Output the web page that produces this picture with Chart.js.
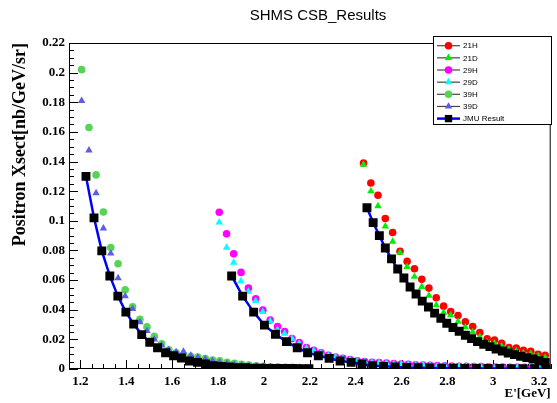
<!DOCTYPE html>
<html>
<head>
<meta charset="utf-8">
<script src="https://cdn.jsdelivr.net/npm/chart.js@4.4.0/dist/chart.umd.min.js"></script>
<style>
  html, body { margin: 0; padding: 0; background: #fff; }
</style>
</head>
<body>
<canvas id="csbChart" width="557" height="403"></canvas>
<script>
// axis ticks
const xTicks = [1.2, 1.4, 1.6, 1.8, 2.0, 2.2, 2.4, 2.6, 2.8, 3.0, 3.2];
const yTicks = [0, 0.02, 0.04, 0.06, 0.08, 0.1, 0.12, 0.14, 0.16, 0.18, 0.2, 0.22];

// 21 deg settings (H and D share the same E' bins)
const e21 = [2.434, 2.466, 2.497, 2.529, 2.561, 2.593, 2.624, 2.656, 2.688, 2.719, 2.751, 2.783, 2.814,
             2.846, 2.878, 2.910, 2.941, 2.973, 3.005, 3.036, 3.068, 3.100, 3.131, 3.163, 3.195, 3.226];
const y21H = [0.139, 0.1255, 0.1173, 0.1016, 0.0921, 0.0794, 0.0726, 0.0677, 0.0605, 0.0546, 0.0481, 0.0424, 0.0388,
              0.0361, 0.0318, 0.0286, 0.0246, 0.0203, 0.0196, 0.0174, 0.0144, 0.0142, 0.0127, 0.0120, 0.0100, 0.0093];
const y21D = [0.138, 0.120, 0.110, 0.0963, 0.086, 0.0785, 0.069, 0.0623, 0.0555, 0.0496, 0.0431, 0.0381, 0.0363,
              0.032, 0.0282, 0.025, 0.0217, 0.0181, 0.0174, 0.0154, 0.0131, 0.0120, 0.0108, 0.0102, 0.0088, 0.0077];

// 29 deg settings
const e29 = [1.805, 1.837, 1.868, 1.900, 1.932, 1.964, 1.995, 2.027, 2.059, 2.090, 2.122, 2.154, 2.185, 2.217, 2.249,
             2.281, 2.312, 2.344, 2.376, 2.407, 2.439, 2.471, 2.502, 2.534, 2.566, 2.598, 2.629, 2.661, 2.693, 2.724,
             2.756, 2.788, 2.819, 2.851, 2.883, 2.915, 2.946, 2.978, 3.010, 3.041, 3.073, 3.105, 3.136, 3.168, 3.200];
const y29H = [0.1058, 0.0912, 0.0777, 0.0652, 0.0546, 0.0474, 0.0397, 0.033, 0.0286, 0.0253, 0.0205, 0.0178, 0.0144, 0.0127, 0.011,
              0.0093, 0.0081, 0.0072, 0.0063, 0.0056, 0.0050, 0.0046, 0.0043, 0.0040, 0.0037, 0.0034, 0.0031, 0.0029, 0.0027, 0.0025,
              0.0023, 0.0022, 0.0020, 0.0019, 0.0018, 0.0017, 0.0016, 0.0015, 0.0014, 0.0013, 0.0012, 0.0012, 0.0011, 0.0010, 0.0010];
const y29D = [0.099, 0.082, 0.0718, 0.0594, 0.0523, 0.046, 0.0386, 0.0323, 0.0264, 0.0239, 0.0205, 0.0171, 0.014, 0.0122, 0.0106,
              0.0091, 0.008, 0.0070, 0.0061, 0.0054, 0.0048, 0.0044, 0.0041, 0.0038, 0.0035, 0.0032, 0.0030, 0.0028, 0.0026, 0.0024,
              0.0022, 0.0021, 0.0019, 0.0018, 0.0017, 0.0016, 0.0015, 0.0014, 0.0013, 0.0012, 0.0011, 0.0011, 0.0010, 0.0009, 0.0009];

// 39 deg settings
const e39 = [1.205, 1.237, 1.268, 1.300, 1.332, 1.364, 1.395, 1.427, 1.459, 1.490, 1.522, 1.554, 1.585, 1.617, 1.649, 1.681,
             1.712, 1.744, 1.776, 1.807, 1.839, 1.871, 1.903, 1.934, 1.966, 1.998, 2.029, 2.061, 2.093, 2.125, 2.156, 2.188];
const y39H = [0.202, 0.163, 0.131, 0.106, 0.082, 0.071, 0.0535, 0.042, 0.0336, 0.0284, 0.022, 0.017, 0.013, 0.011, 0.0095, 0.0085,
              0.008, 0.007, 0.006, 0.0055, 0.0045, 0.0038, 0.0032, 0.0027, 0.0022, 0.0018, 0.0015, 0.0013, 0.0011, 0.0010, 0.0009, 0.0008];
const y39D = [0.181, 0.1476, 0.1187, 0.095, 0.078, 0.0614, 0.0492, 0.0406, 0.0316, 0.0257, 0.020, 0.016, 0.013, 0.0115, 0.0117, 0.009,
              0.0079, 0.0067, 0.0055, 0.0045, 0.0037, 0.0030, 0.0025, 0.0021, 0.0018, 0.0015, 0.0013, 0.0011, 0.0010, 0.0009, 0.0008, 0.0007];

// JMU result, three pieces
const eJmuLow = [1.224, 1.259, 1.293, 1.328, 1.363, 1.398, 1.432, 1.467, 1.502, 1.536, 1.571, 1.606, 1.640, 1.675, 1.710,
                 1.745, 1.779, 1.814, 1.849, 1.883, 1.918, 1.953, 1.987, 2.022, 2.057, 2.092, 2.126, 2.161, 2.196];
const jmuLow = [0.130, 0.102, 0.0797, 0.0628, 0.0492, 0.0384, 0.0303, 0.0232, 0.0180, 0.0143, 0.0110, 0.0089, 0.0074, 0.0054, 0.0045,
                0.0034, 0.0022, 0.0018, 0.0013, 0.0009, 0.0009, 0.0006, 0.0005, 0.0004, 0.0004, 0.0003, 0.0003, 0.0002, 0.0002];
const eJmuMid = [1.859, 1.907, 1.955, 2.002, 2.050, 2.098, 2.145, 2.190, 2.237, 2.284, 2.332, 2.380, 2.427, 2.474, 2.521,
                 2.572, 2.622, 2.672, 2.722, 2.774, 2.825, 2.875, 2.926, 2.977, 3.028, 3.078, 3.129, 3.180, 3.230];
const jmuMid = [0.0628, 0.0492, 0.0384, 0.0296, 0.0235, 0.0185, 0.0143, 0.0110, 0.0089, 0.0072, 0.0054, 0.0045, 0.0034, 0.0022, 0.0018,
                0.0013, 0.0010, 0.0009, 0.0007, 0.0006, 0.0005, 0.0004, 0.0004, 0.0003, 0.0003, 0.0002, 0.0002, 0.0002, 0.0001];
const eJmuHigh = [2.449, 2.476, 2.503, 2.529, 2.556, 2.583, 2.610, 2.637, 2.663, 2.690, 2.717, 2.744, 2.771, 2.797, 2.824,
                  2.851, 2.878, 2.905, 2.931, 2.958, 2.985, 3.012, 3.039, 3.065, 3.092, 3.119, 3.146, 3.173, 3.199, 3.226];
const jmuHigh = [0.1088, 0.0988, 0.090, 0.0817, 0.0743, 0.0675, 0.0614, 0.0553, 0.0506, 0.0458, 0.0418, 0.0377, 0.0343, 0.0309, 0.028,
                 0.0255, 0.0228, 0.0205, 0.0185, 0.0167, 0.0151, 0.0135, 0.0122, 0.0108, 0.0097, 0.0086, 0.0077, 0.0068, 0.0056, 0.0045];

const pts = (xs, ys) => xs.map((x, i) => ({ x: x, y: ys[i] }));

function marker(label, xs, ys, color, style, r, order) {
    return {
        label: label,
        data: pts(xs, ys),
        pointStyle: style,
        pointRadius: r,
        pointBackgroundColor: color,
        pointBorderWidth: 0,
        backgroundColor: color,
        borderColor: color,
        showLine: false,
        order: order
    };
}

function jmu(xs, ys) {
    return {
        label: 'JMU Result',
        data: pts(xs, ys),
        showLine: true,
        borderColor: '#0000ff',
        borderWidth: 2.5,
        pointStyle: 'rect',
        pointRadius: 6.3,
        pointBackgroundColor: '#000',
        pointBorderWidth: 0,
        backgroundColor: '#000',
        tension: 0,
        order: 0
    };
}

const datasets = [
    marker('21H', e21, y21H, '#ff0000', 'circle', 3.8, 2),
    marker('21D', e21, y21D, '#00ee00', 'triangle', 4.3, 1),
    marker('29H', e29, y29H, '#ff00ff', 'circle', 3.8, 2),
    marker('29D', e29, y29D, '#00ffff', 'triangle', 4.3, 1),
    marker('39H', e39, y39H, '#55d455', 'circle', 3.8, 2),
    marker('39D', e39, y39D, '#5c5ce6', 'triangle', 4.3, 1),
    jmu(eJmuLow, jmuLow),
    jmu(eJmuMid, jmuMid),
    jmu(eJmuHigh, jmuHigh)
];

// ROOT style frame with inward ticks, title and legend box
const framePlugin = {
    id: 'rootFrame',
    beforeDatasetsDraw(chart) {
        const ctx = chart.ctx;
        const a = chart.chartArea;
        const xs = chart.scales.x, ys = chart.scales.y;
        ctx.save();
        ctx.strokeStyle = '#000';
        ctx.lineWidth = 1;
        ctx.strokeRect(a.left + 0.5, a.top + 0.5, a.right - a.left - 1, a.bottom - a.top - 1);
        ctx.beginPath();
        for (let v = 1.15; v <= 3.2501; v += 0.05) {
            const px = Math.round(xs.getPixelForValue(v)) + 0.5;
            const major = xTicks.some(t => Math.abs(t - v) < 1e-6);
            ctx.moveTo(px, a.bottom);
            ctx.lineTo(px, a.bottom - (major ? 9 : 5));
        }
        for (let v = 0; v <= 0.2201; v += 0.005) {
            const py = Math.round(ys.getPixelForValue(v)) + 0.5;
            const major = yTicks.some(t => Math.abs(t - v) < 1e-6);
            ctx.moveTo(a.left, py);
            ctx.lineTo(a.left + (major ? 9 : 5), py);
        }
        ctx.stroke();
        ctx.restore();
    },
    afterDraw(chart) {
        const ctx = chart.ctx;
        ctx.save();
        // main title
        ctx.fillStyle = '#000';
        ctx.font = '15px "Liberation Sans", Arial, sans-serif';
        ctx.textAlign = 'center';
        ctx.textBaseline = 'middle';
        ctx.fillText('SHMS CSB_Results', 318, 16);

        // legend box
        const bx = 433, by = 36, bw = 118, bh = 88;
        ctx.fillStyle = '#fff';
        ctx.fillRect(bx, by, bw, bh);
        ctx.strokeStyle = '#000';
        ctx.lineWidth = 1;
        ctx.strokeRect(bx + 0.5, by + 0.5, bw, bh);

        const entries = chart.data.datasets.slice(0, 7);
        entries.forEach((ds, i) => {
            const y = 45.7 + i * 12.15;
            const isJmu = ds.label === 'JMU Result';
            ctx.beginPath();
            ctx.strokeStyle = isJmu ? '#0000ff' : '#444';
            ctx.lineWidth = isJmu ? 2.5 : 1.2;
            ctx.moveTo(437, y);
            ctx.lineTo(460, y);
            ctx.stroke();
            ctx.fillStyle = ds.pointBackgroundColor;
            Chart.helpers.drawPoint(ctx, {
                pointStyle: ds.pointStyle,
                rotation: 0,
                borderWidth: 0,
                radius: isJmu ? 5.2 : ds.pointRadius
            }, 448.5, y);
            ctx.fillStyle = '#000';
            ctx.font = '8px "Liberation Sans", Arial, sans-serif';
            ctx.textAlign = 'left';
            ctx.textBaseline = 'middle';
            ctx.fillText(ds.label, 463, y + 0.5);
        });
        ctx.restore();
    }
};

const tickFont = { family: '"Liberation Serif", "Times New Roman", serif', size: 13, weight: 'bold' };

new Chart(document.getElementById('csbChart').getContext('2d'), {
    type: 'scatter',
    data: { datasets: datasets },
    options: {
        responsive: false,
        animation: false,
        layout: { padding: { top: 43, right: 4, left: 0, bottom: 0 } },
        plugins: {
            legend: { display: false },
            tooltip: { enabled: false },
            title: { display: false }
        },
        scales: {
            x: {
                type: 'linear',
                min: 1.15,
                max: 3.25,
                afterFit: scale => { scale.height = 34; },
                afterBuildTicks: scale => { scale.ticks = xTicks.map(v => ({ value: v })); },
                grid: { display: false, drawTicks: false },
                border: { display: false },
                ticks: {
                    padding: 5,
                    color: '#000',
                    font: tickFont,
                    maxRotation: 0,
                    autoSkip: false,
                    callback: v => String(+v.toFixed(1))
                },
                title: {
                    display: true,
                    text: "E'[GeV]",
                    align: 'end',
                    color: '#000',
                    font: { family: '"Liberation Serif", "Times New Roman", serif', size: 13, weight: 'bold' },
                    padding: { top: 0, bottom: 2 }
                }
            },
            y: {
                type: 'linear',
                min: 0,
                max: 0.22,
                afterFit: scale => { scale.width = 69; },
                afterBuildTicks: scale => { scale.ticks = yTicks.map(v => ({ value: v })); },
                grid: { display: false, drawTicks: false },
                border: { display: false },
                ticks: {
                    padding: 4,
                    color: '#000',
                    font: tickFont,
                    autoSkip: false,
                    callback: v => String(+v.toFixed(2))
                },
                title: {
                    display: true,
                    text: 'Positron Xsect[nb/GeV/sr]',
                    align: 'end',
                    color: '#000',
                    font: { family: '"Liberation Serif", "Times New Roman", serif', size: 18, weight: 'bold' },
                    padding: { top: 10, bottom: 0 }
                }
            }
        }
    },
    plugins: [framePlugin]
});
</script>
</body>
</html>
